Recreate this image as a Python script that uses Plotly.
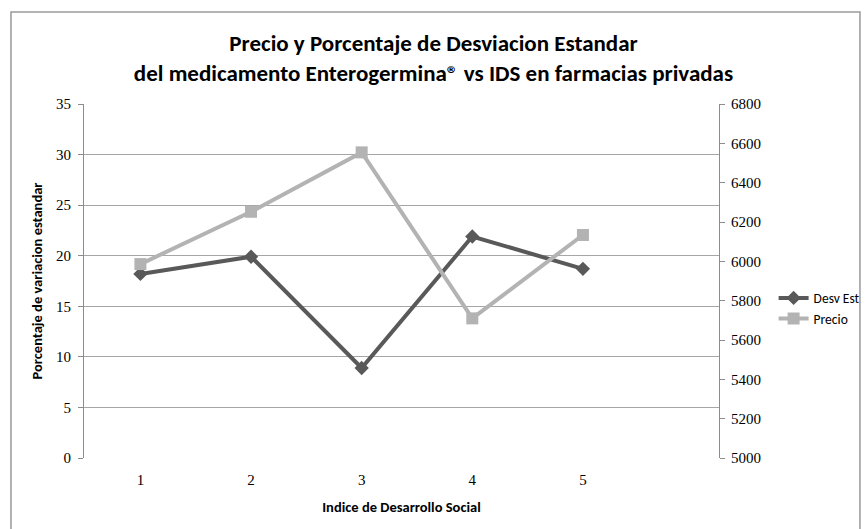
import plotly.graph_objects as go

ids = [1, 2, 3, 4, 5]
desv_est = [18.2, 19.9, 8.9, 21.9, 18.7]
precio = [5986, 6252, 6554, 5710, 6134]
left_ticks = [0, 5, 10, 15, 20, 25, 30, 35]
right_ticks = [5000, 5200, 5400, 5600, 5800, 6000, 6200, 6400, 6600, 6800]

title_font = "Carlito, Lato, Noto Sans"
tick_font = "Liberation Serif, DejaVu Serif"

fig = go.Figure()
fig.add_trace(go.Scatter(
    x=ids, y=desv_est, name="Desv Est", mode="lines+markers",
    line=dict(color="#595959", width=4),
    marker=dict(symbol="diamond", size=11, color="#595959"),
    yaxis="y"))
fig.add_trace(go.Scatter(
    x=ids, y=precio, name="Precio", mode="lines+markers",
    line=dict(color="#b3b3b3", width=4),
    marker=dict(symbol="square", size=12, color="#b3b3b3"),
    yaxis="y2"))

fig.update_layout(
    width=867, height=529,
    margin=dict(l=84, r=148, t=104, b=71, autoexpand=False),
    paper_bgcolor="white", plot_bgcolor="white",
    title=dict(
        text="<b>Precio y Porcentaje de Desviacion Estandar<br>del medicamento Enterogermina® vs IDS en farmacias privadas</b>",
        x=0.5, xref="container", xanchor="center",
        y=0.903, yref="container", yanchor="middle",
        font=dict(family=title_font, size=23, color="#000000")),
    xaxis=dict(
        range=[0.49, 6.23], tickvals=ids, ticktext=[str(v) for v in ids],
        showgrid=False, zeroline=False, showline=False, automargin=False,
        ticks="outside", ticklen=8, tickcolor="rgba(0,0,0,0)",
        tickfont=dict(family=tick_font, size=15, color="#000"),
        title=dict(text="<b>Indice de Desarrollo Social</b>",
                   font=dict(family=title_font, size=14.5, color="#000"), standoff=14)),
    yaxis=dict(
        range=[0, 35], tickvals=left_ticks, automargin=False,
        showgrid=True, gridcolor="#a6a6a6", gridwidth=1,
        showline=True, linecolor="#8c8c8c", linewidth=1,
        ticks="outside", ticklen=5, tickcolor="#8c8c8c", ticklabelstandoff=4,
        zeroline=False,
        tickfont=dict(family=tick_font, size=15, color="#000"),
        title=dict(text="<b>Porcentaje de variacion estandar</b>",
                   font=dict(family=title_font, size=14.5, color="#000"), standoff=9)),
    yaxis2=dict(
        range=[5000, 6800], tickvals=right_ticks, overlaying="y", side="right",
        showgrid=False, showline=True, linecolor="#8c8c8c", linewidth=1, automargin=False,
        ticks="outside", ticklen=5, tickcolor="#8c8c8c", zeroline=False, ticklabelstandoff=3,
        tickfont=dict(family=tick_font, size=15, color="#000")),
    legend=dict(
        x=1.086, y=0.422, xanchor="left", yanchor="middle",
        font=dict(family=title_font, size=13.5, color="#000"),
        bgcolor="rgba(0,0,0,0)", itemwidth=30, tracegroupgap=2),
    showlegend=True,
)

fig.add_shape(type="rect", xref="paper", yref="paper",
              x0=-0.115, x1=1.222, y0=-0.25, y1=1.26,
              line=dict(color="#9a9a9a", width=1.5), layer="below")

fig.write_html("out.html", config={"displayModeBar": False},
               post_script="document.body.style.margin='0px';")
